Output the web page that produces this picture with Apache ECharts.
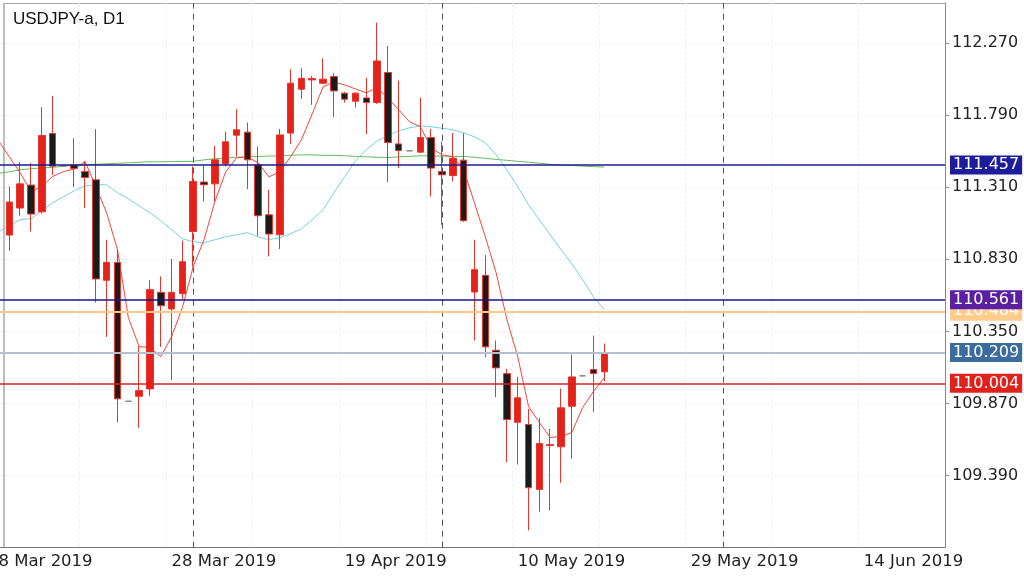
<!DOCTYPE html>
<html>
<head>
<meta charset="UTF-8">
<title>USDJPY-a, D1</title>
<script src="https://cdn.jsdelivr.net/npm/echarts@6/dist/echarts.min.js"></script>
<style>
  html, body { margin: 0; padding: 0; background: #fff; overflow: hidden; }
  /* the view starts half a bar before 11 Mar, so the chart box is pushed 11px left */
  #main { position: absolute; left: -11px; top: 0; width: 1035px; height: 577px; }
</style>
</head>
<body>
<div id="main"></div>
<script>
// first slot (8 Mar) is only the left edge of the view, no candle drawn
var dates = ['8 Mar 2019',
  '11 Mar 2019','12 Mar 2019','13 Mar 2019','14 Mar 2019','15 Mar 2019','17 Mar 2019','18 Mar 2019','19 Mar 2019',
  '20 Mar 2019','21 Mar 2019','22 Mar 2019','24 Mar 2019','25 Mar 2019','26 Mar 2019','27 Mar 2019','28 Mar 2019',
  '29 Mar 2019','1 Apr 2019','2 Apr 2019','3 Apr 2019','4 Apr 2019','5 Apr 2019','8 Apr 2019','9 Apr 2019',
  '10 Apr 2019','11 Apr 2019','12 Apr 2019','15 Apr 2019','16 Apr 2019','17 Apr 2019','18 Apr 2019','19 Apr 2019',
  '22 Apr 2019','23 Apr 2019','24 Apr 2019','25 Apr 2019','26 Apr 2019','28 Apr 2019','29 Apr 2019','30 Apr 2019',
  '1 May 2019','2 May 2019','3 May 2019','6 May 2019','7 May 2019','8 May 2019','9 May 2019','10 May 2019',
  '13 May 2019','14 May 2019','15 May 2019','16 May 2019','17 May 2019','19 May 2019','20 May 2019','21 May 2019',
  '22 May 2019','23 May 2019','24 May 2019','25 May 2019','26 May 2019','27 May 2019','28 May 2019','29 May 2019',
  '30 May 2019','31 May 2019','1 Jun 2019','2 Jun 2019','3 Jun 2019','4 Jun 2019','5 Jun 2019','6 Jun 2019',
  '7 Jun 2019','8 Jun 2019','9 Jun 2019','10 Jun 2019','11 Jun 2019','12 Jun 2019','13 Jun 2019','14 Jun 2019',
  '15 Jun 2019','16 Jun 2019','17 Jun 2019','18 Jun 2019','19 Jun 2019','20 Jun 2019','21 Jun 2019'];

var opens = [null,
  110.991,111.171,111.324,111.146,111.667,111.452,111.457,111.414,111.359,110.690,110.809,109.885,
  109.918,109.967,110.610,110.499,110.601,111.015,111.344,111.332,111.465,111.656,111.676,111.459,
  111.126,110.993,111.670,111.962,112.024,112.002,112.046,111.936,111.882,111.904,111.873,112.073,
  111.598,111.552,111.543,111.640,111.414,111.388,111.490,110.612,110.723,110.224,110.069,109.745,
  109.730,109.298,109.590,109.582,109.852,110.054,110.096,110.081];
var closes = [null,
  111.211,111.332,111.131,111.654,111.450,111.452,111.434,111.374,110.699,110.809,109.901,109.885,
  109.956,110.628,110.521,110.610,110.814,111.348,111.326,111.492,111.612,111.692,111.492,111.120,
  110.998,111.658,112.002,112.035,112.033,112.029,111.951,111.896,111.936,111.873,112.150,111.607,
  111.554,111.552,111.640,111.437,111.392,111.503,111.087,110.761,110.247,110.107,109.763,109.908,
  109.309,109.604,109.597,109.841,110.047,110.054,110.069,110.209];
var lows = [null,
  110.887,111.120,111.015,111.133,111.392,111.452,111.311,111.171,110.543,110.313,109.745,109.885,
  109.708,109.918,110.247,110.025,110.566,110.781,111.215,111.215,111.448,111.514,111.297,110.987,
  110.849,110.898,111.598,111.898,111.858,111.997,111.776,111.873,111.840,111.663,111.864,111.344,
  111.437,111.552,111.537,111.248,111.060,111.348,111.080,110.289,110.180,109.912,109.479,109.464,
  109.025,109.150,109.158,109.342,109.502,110.054,109.812,110.018];
var highs = [null,
  111.315,111.477,111.470,111.842,111.918,111.452,111.636,111.485,111.696,110.960,110.898,109.885,
  110.251,110.690,110.716,110.832,110.954,111.448,111.452,111.585,111.680,111.829,111.740,111.581,
  111.293,111.698,112.095,112.102,112.051,112.168,112.069,111.944,111.941,112.039,112.405,112.250,
  112.019,111.552,111.906,111.698,111.614,111.670,111.670,110.960,110.858,110.289,110.100,110.047,
  109.834,109.775,109.701,109.969,110.196,110.054,110.322,110.269];

// moving averages
var maFast = [111.618,
  111.512,111.406,111.281,111.315,111.381,111.414,111.430,111.481,111.315,111.138,110.894,110.442,
  110.249,110.242,110.182,110.315,110.508,110.781,110.960,111.213,111.412,111.505,111.512,111.472,
  111.379,111.412,111.512,111.625,111.798,111.977,112.011,111.991,111.964,111.938,111.971,111.904,
  111.825,111.745,111.712,111.572,111.525,111.512,111.426,111.206,110.980,110.741,110.428,110.182,
  109.850,109.743,109.644,109.650,109.677,109.843,109.950,110.043];
var maMid = [111.013,
  111.053,111.093,111.100,111.153,111.206,111.246,111.286,111.319,111.326,111.326,111.273,111.233,
  111.186,111.140,111.087,111.027,110.967,110.947,110.940,110.960,110.980,110.993,111.007,110.980,
  110.960,110.973,111.000,111.033,111.093,111.160,111.273,111.379,111.485,111.559,111.618,111.652,
  111.685,111.705,111.718,111.712,111.702,111.692,111.672,111.645,111.605,111.525,111.426,111.313,
  111.193,111.093,110.993,110.894,110.801,110.694,110.581,110.495];
var maSlow = [111.402,
  111.412,111.426,111.432,111.439,111.442,111.449,111.456,111.459,111.462,111.466,111.469,111.472,
  111.476,111.479,111.479,111.480,111.481,111.482,111.492,111.499,111.505,111.509,111.512,111.514,
  111.517,111.519,111.522,111.525,111.525,111.522,111.522,111.519,111.515,111.512,111.509,111.507,
  111.512,111.515,111.519,111.519,111.517,111.515,111.514,111.509,111.502,111.495,111.489,111.482,
  111.476,111.469,111.462,111.457,111.454,111.450,111.447,111.444];

var priceTicks = [109.390, 109.870, 110.350, 110.830, 111.310, 111.790, 112.270];
var levels = [111.457, 110.484, 110.561, 110.209, 110.004];
var levelLine = ['#1c1c8e', '#ffc888', '#16168c', '#b6bfd0', '#d42424'];
var levelBox = ['#1d1d9c', '#ffcc8c', '#5a1fa2', '#3c6c9e', '#e0221c'];
var monthStarts = ['1 Apr 2019', '1 May 2019', '1 Jun 2019'];

var candles = [];
for (var i = 0; i < opens.length; i++) {
  if (opens[i] === null) candles.push('-');
  else candles.push([opens[i], closes[i], lows[i], highs[i]]);
}

var labelFont = 'DejaVu Sans';

var levelData = levels.map(function (v, k) {
  return {
    name: v.toFixed(3),
    yAxis: v,
    lineStyle: { color: levelLine[k], width: k === 1 || k === 3 ? 2 : 1.5, type: 'solid' },
    label: { backgroundColor: levelBox[k] }
  };
});

var myChart = echarts.init(document.getElementById('main'));
var option = {
  animation: false,
  backgroundColor: '#fff',
  title: {
    text: 'USDJPY-a, D1',
    left: 19,
    top: 6,
    textStyle: { fontFamily: 'Liberation Sans', fontSize: 17, fontWeight: 'normal', color: '#111' }
  },
  grid: { left: 4.1, right: 79, top: 3, bottom: 29.3 },
  xAxis: {
    type: 'category',
    data: dates,
    boundaryGap: true,
    axisLine: { lineStyle: { color: '#777', width: 1 } },
    axisTick: {
      alignWithLabel: true,
      length: 4,
      lineStyle: { color: '#777' },
      interval: function (idx) { return idx % 16 === 0; }
    },
    axisLabel: {
      interval: function (idx) { return idx % 16 === 0; },
      align: 'left',
      margin: 6,
      color: '#222',
      fontFamily: labelFont,
      fontSize: 16.5
    },
    splitLine: {
      show: true,
      interval: function (idx) { return idx % 8 === 0; },
      lineStyle: { color: '#f1f1f1', type: 'dashed' }
    }
  },
  yAxis: {
    type: 'value',
    position: 'right',
    scale: true,
    min: 108.91,
    max: 112.536,
    axisLine: { show: true, lineStyle: { color: '#888', width: 1 } },
    axisTick: { show: true, length: 4, lineStyle: { color: '#888' }, customValues: priceTicks },
    axisLabel: {
      customValues: priceTicks,
      margin: 7,
      padding: [4, 0, 0, 0],
      color: '#222',
      fontFamily: labelFont,
      fontSize: 16,
      formatter: function (v) { return v.toFixed(3); }
    },
    splitLine: { show: true, lineStyle: { color: '#f1f1f1', type: 'dashed' } }
  },
  graphic: [
    { type: 'line', shape: { x1: 15, y1: 3, x2: 15, y2: 548 }, style: { stroke: '#a8a8a8', lineWidth: 1.5 }, silent: true },
    { type: 'line', shape: { x1: 15, y1: 3.5, x2: 956, y2: 3.5 }, style: { stroke: '#a8a8a8', lineWidth: 1 }, silent: true }
  ],
  series: [
    {
      name: 'maSlow',
      type: 'line',
      data: maSlow,
      symbol: 'none',
      lineStyle: { color: '#63bb5f', width: 1 },
      z: 2,
      silent: true
    },
    {
      name: 'maMid',
      type: 'line',
      data: maMid,
      symbol: 'none',
      lineStyle: { color: '#74d2e2', width: 1 },
      z: 2,
      silent: true
    },
    {
      name: 'maFast',
      type: 'line',
      data: maFast,
      symbol: 'none',
      lineStyle: { color: '#f0463c', width: 1 },
      z: 3,
      silent: true,
      markLine: {
        silent: true,
        symbol: 'none',
        label: { show: false },
        lineStyle: { color: '#555', width: 1, type: [6, 5] },
        data: monthStarts.map(function (d) { return { xAxis: d }; })
      }
    },
    {
      name: 'USDJPY-a',
      type: 'candlestick',
      data: candles,
      barWidth: 7,
      z: 4,
      itemStyle: {
        color: '#e4221a',
        color0: '#1b1b1b',
        borderColor: '#e8352c',
        borderColor0: '#e8352c',
        borderColorDoji: '#808080',
        borderWidth: 1
      },
      markLine: {
        silent: true,
        symbol: 'none',
        precision: 3,
        z: 6,
        label: {
          show: true,
          position: 'end',
          distance: 5,
          color: '#fff',
          fontFamily: labelFont,
          fontSize: 16,
          padding: [2, 3, 1, 3],
          formatter: function (p) { return p.name; }
        },
        data: levelData
      }
    }
  ]
};
myChart.setOption(option);
</script>
</body>
</html>
